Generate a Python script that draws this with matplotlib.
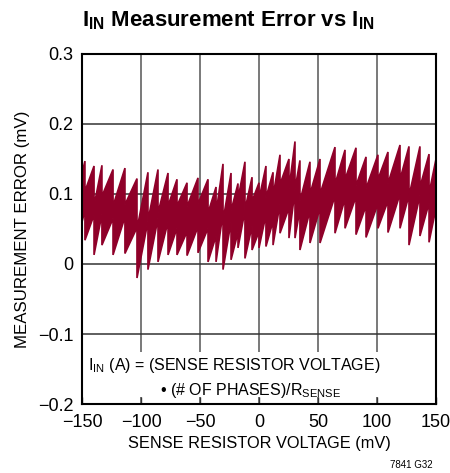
# I_IN measurement error vs sense resistor voltage

import matplotlib
matplotlib.use("Agg")
import matplotlib.pyplot as plt
from matplotlib.patches import Rectangle

# sawtooth teeth: drop position (mV), value before drop, value after drop
tooth_mv = [-147.5, -139.8, -133.1, -123.7, -113.6, -103.4, -94.1, -85.6, -77.1, -69.5,
            -61.0, -51.7, -43.2, -36.4, -30.5, -23.7, -17.8, -11.9, -5.9, 0.0,
            5.9, 11.9, 17.8, 25.4, 30.5, 34.7, 43.2, 51.7, 64.4, 72.9,
            82.2, 90.7, 100.8, 109.3, 119.5, 127.1, 136.4, 144.1]
tooth_peak = [0.147, 0.140, 0.141, 0.135, 0.137, 0.122, 0.131, 0.135, 0.130, 0.121,
              0.116, 0.123, 0.121, 0.110, 0.143, 0.130, 0.115, 0.146, 0.124, 0.116,
              0.140, 0.131, 0.156, 0.150, 0.175, 0.148, 0.146, 0.150, 0.167, 0.163,
              0.166, 0.153, 0.156, 0.160, 0.170, 0.168, 0.168, 0.157]
tooth_trough = [0.034, 0.013, 0.027, 0.013, 0.015, -0.020, -0.008, 0.003, 0.013, 0.013,
                0.012, 0.016, 0.003, 0.003, -0.008, 0.006, 0.023, 0.008, 0.020, 0.023,
                0.025, 0.027, 0.044, 0.037, 0.037, 0.020, 0.030, 0.030, 0.044, 0.051,
                0.042, 0.038, 0.051, 0.045, 0.051, 0.027, 0.040, 0.031]
# band thickness of the noisy trace
band = 0.07
start_mv, start_top = -150.0, 0.13
end_mv, end_top = 150.0, 0.15

x_ticks = [-150, -100, -50, 0, 50, 100, 150]
x_labels = ["\u2212150", "\u2212100", "\u221250", "0", "50", "100", "150"]
y_ticks = [-0.2, -0.1, 0, 0.1, 0.2, 0.3]
y_labels = ["\u22120.2", "\u22120.1", "0", "0.1", "0.2", "0.3"]

fam = "Liberation Sans"
plt.rcParams["font.family"] = [fam, "DejaVu Sans"]
plt.rcParams["mathtext.fontset"] = "custom"
plt.rcParams["mathtext.rm"] = fam
plt.rcParams["mathtext.it"] = fam
plt.rcParams["mathtext.bf"] = fam + ":bold"

# outline of the band: upper edge left->right, lower edge right->left
upper = [(start_mv, start_top)]
lower = [(start_mv, start_top - band)]
for m, p, t in zip(tooth_mv, tooth_peak, tooth_trough):
    upper += [(m, p), (m, t + band)]
    lower += [(m, p - band), (m, t)]
upper.append((end_mv, end_top))
lower.append((end_mv, end_top - band))
poly = upper + lower[::-1]
px = [q[0] for q in poly]
py = [q[1] for q in poly]

fig = plt.figure(figsize=(4.5, 4.73), dpi=100)
ax = fig.add_axes([82 / 450, 1 - 404 / 473, 354 / 450, 350 / 473])

for xv in x_ticks[1:-1]:
    ax.axvline(xv, color="#555555", lw=1.1, zorder=0.8)
for yv in y_ticks[1:-1]:
    ax.axhline(yv, color="#333333", lw=1.1, zorder=0.8)

ax.fill(px, py, color="#8f0029", lw=1.2, edgecolor="#8f0029", zorder=2)

ax.add_patch(Rectangle((0.003, 0.02), 0.994, 0.13, transform=ax.transAxes,
                       facecolor="white", edgecolor="none", zorder=1.5))

ax.set_xlim(-150, 150)
ax.set_ylim(-0.2, 0.3)
ax.set_xticks(x_ticks)
ax.set_xticklabels(x_labels)
ax.set_yticks(y_ticks)
ax.set_yticklabels(y_labels)
ax.tick_params(axis="both", labelsize=13, length=0, pad=6)
ax.tick_params(axis="x", direction="in", length=5, width=1, color="#333333", pad=7)
for s in ax.spines.values():
    s.set_linewidth(1.5)
    s.set_zorder(3)

ax.set_xlabel("SENSE RESISTOR VOLTAGE (mV)", fontsize=11.8, labelpad=4)
ax.set_ylabel("MEASUREMENT ERROR (mV)", fontsize=12.2, labelpad=6)

ax.text(0.017, 0.111, r"I$_{\rm IN}$ (A) = (SENSE RESISTOR VOLTAGE)", transform=ax.transAxes,
        fontsize=11.5, ha="left", va="center", zorder=4)
ax.text(0.22, 0.04, "\u2022 (# OF PHASES)/R$_{\\rm SENSE}$",
        transform=ax.transAxes, fontsize=11.5, ha="left", va="center", zorder=4)

fig.text(82 / 450, 1 - 21 / 473,
         r"$\mathbf{I_{IN}}$ Measurement Error vs $\mathbf{I_{IN}}$",
         fontsize=16, fontweight="bold", ha="left", va="center")
fig.text(433 / 450, 1 - 465 / 473, "7841 G32", fontsize=7, ha="right", va="center")

plt.savefig("out.png", dpi=100)
